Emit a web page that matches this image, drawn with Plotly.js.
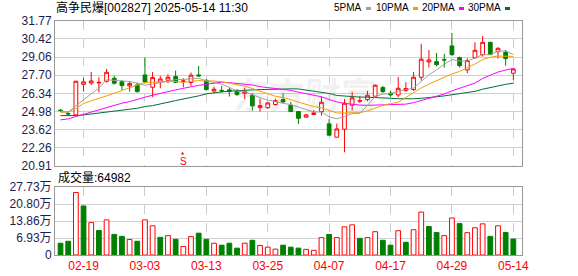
<!DOCTYPE html>
<html>
<head>
<meta charset="utf-8">
<script src="https://cdn.plot.ly/plotly-3.0.1.min.js"></script>
<style>html,body{margin:0;padding:0;background:#fff;}#chart{width:578px;height:276px;}</style>
</head>
<body>
<div id="chart"></div>
<script>
const dates = ['02-14','02-17','02-18','02-19','02-20','02-21','02-24','02-25','02-26','02-27','02-28',
  '03-03','03-04','03-05','03-06','03-07','03-10','03-11','03-12','03-13','03-14','03-17','03-18','03-19','03-20','03-21','03-24','03-25','03-26','03-27','03-28','03-31',
  '04-01','04-02','04-03','04-07','04-08','04-09','04-10','04-11','04-14','04-15','04-16','04-17','04-18','04-21','04-22','04-23','04-24','04-25','04-28','04-29','04-30',
  '05-06','05-07','05-08','05-09','05-12','05-13','05-14'];
const open  = [25.08,24.83,24.72,27.02,27.12,27.12,27.25,27.47,27.22,26.90,26.97,27.72,26.80,27.15,27.32,27.60,27.22,27.15,27.72,27.32,
  26.52,26.56,26.60,26.57,26.35,26.20,25.27,25.27,25.50,25.87,25.45,24.97,24.55,24.75,24.97,24.05,23.05,23.65,25.45,25.75,
  25.87,26.12,26.77,26.35,26.22,26.55,26.62,27.55,28.70,28.72,28.87,29.90,29.02,28.10,29.02,29.25,30.17,29.47,29.42,27.85];
const high  = [25.15,24.98,27.27,27.50,27.95,27.55,28.17,27.65,27.35,27.27,27.15,29.02,27.95,27.65,27.77,28.05,27.47,27.90,28.40,27.40,
  26.85,26.90,26.75,26.65,26.77,26.35,25.95,25.70,25.95,26.35,25.70,24.98,24.80,25.10,26.10,24.40,24.07,25.92,26.45,26.12,
  26.52,27.02,26.90,26.55,27.57,27.17,27.95,30.05,29.60,29.37,29.30,30.87,29.10,28.97,30.17,30.65,30.20,29.80,29.60,28.25];
const low   = [24.95,24.65,24.67,26.47,26.97,26.42,27.15,27.00,26.60,26.47,26.40,27.10,26.05,26.72,27.10,27.10,26.80,26.90,27.60,26.55,
  26.35,26.40,26.10,26.15,25.90,25.05,24.97,25.17,25.42,25.60,24.97,24.05,24.55,24.75,24.67,23.20,23.05,21.92,25.05,25.62,
  25.75,26.12,26.37,26.10,26.05,26.47,26.52,27.30,28.27,28.35,28.27,29.15,28.27,27.85,28.92,29.10,29.25,28.95,28.42,27.35];
const close = [25.05,24.80,27.25,27.20,27.27,27.16,27.92,27.10,26.92,27.07,26.47,27.20,27.52,27.42,27.55,27.17,27.27,27.70,27.65,26.62,
  26.65,26.53,26.50,26.25,26.47,25.40,25.42,25.62,25.80,25.70,24.97,24.47,24.72,24.87,25.67,23.20,23.67,25.60,26.00,25.79,
  26.20,26.95,26.47,26.22,26.72,26.70,27.55,28.90,28.85,28.50,28.85,29.25,28.42,28.80,29.57,30.17,29.25,29.72,28.95,28.17];
const volume = [48000,56000,255000,200000,132000,100000,143000,84000,76000,63000,56000,143000,119000,72000,79000,64000,35000,75000,89000,64000,
  48000,40000,48000,28000,48000,60000,39000,32000,24000,40000,32000,28000,23000,19000,71000,84000,71000,115000,123000,68000,
  71000,95000,60000,40000,99000,52000,103000,175000,116000,92000,79000,151000,128000,91000,111000,127000,76000,119000,92000,64982];
const ma5  = [25.00,24.92,25.42,25.86,26.31,26.74,27.36,27.33,27.27,27.23,27.10,26.95,27.04,27.14,27.23,27.37,27.39,27.42,27.47,27.28,
  27.18,27.03,26.79,26.51,26.48,26.23,26.01,25.83,25.74,25.59,25.50,25.31,25.13,24.95,24.94,24.58,24.43,24.60,24.83,24.85,
  25.45,26.10,26.28,26.32,26.51,26.61,26.73,27.22,27.74,28.10,28.53,28.87,28.77,28.76,28.98,29.24,29.24,29.50,29.53,29.25];
const ma10 = [24.90,24.95,25.20,25.58,25.78,25.95,26.15,26.35,26.55,26.77,26.92,27.16,27.18,27.21,27.23,27.23,27.17,27.23,27.30,27.26,
  27.27,27.21,27.11,26.99,26.88,26.70,26.52,26.31,26.12,26.03,25.86,25.66,25.48,25.34,25.26,25.04,24.87,24.87,24.89,24.89,
  25.02,25.26,25.44,25.57,25.68,26.03,26.42,26.75,27.03,27.30,27.57,27.80,27.99,28.25,28.54,28.88,29.05,29.14,29.15,29.11];
const ma20 = [24.35,24.42,24.60,24.77,24.97,25.15,25.30,25.45,25.60,25.72,25.90,26.05,26.20,26.35,26.47,26.60,26.72,26.85,26.94,27.02,
  27.10,27.18,27.14,27.10,27.06,26.97,26.84,26.77,26.72,26.65,26.56,26.43,26.30,26.17,26.08,25.88,25.70,25.59,25.50,25.46,
  25.44,25.46,25.45,25.45,25.47,25.53,25.64,25.80,25.96,26.10,26.29,26.53,26.72,26.91,27.11,27.46,27.73,27.94,28.09,28.21];
const ma30 = [24.67,24.65,24.67,24.72,24.80,24.85,24.92,25.00,25.07,25.15,25.22,25.35,25.42,25.52,25.67,25.80,25.90,26.00,26.15,26.30,
  26.40,26.45,26.50,26.55,26.58,26.60,26.62,26.64,26.67,26.69,26.68,26.67,26.59,26.51,26.46,26.33,26.18,26.13,26.10,26.06,
  26.05,26.04,26.01,25.97,25.94,25.92,25.93,25.97,26.01,26.08,26.15,26.24,26.30,26.39,26.49,26.65,26.78,26.92,27.02,27.10];
const xTicks = ['02-19','03-03','03-13','03-25','04-07','04-17','04-29','05-14'];
const priceTicks = [20.91,22.26,23.62,24.98,26.34,27.70,29.06,30.42,31.77];
const priceTickText = ['20.91','22.26','23.62','24.98','26.34','27.70','29.06','30.42','31.77'];
const volTicks = [0,69325,138650,207975,277300];
const volTickText = ['0','6.93万','13.86万','20.80万','27.73万'];
const maNames = ['5PMA','10PMA','20PMA','30PMA'];
const titleText = '高争民爆[002827] 2025-05-14 11:30';
const volLabel = '成交量:64982';
const signalDate = '03-10';

const RED = '#ff0000', GREEN = '#008000';
const maColors = ['#a0a0a0','#f0a000','#ff00ff','#006f35'];
const FONT = 'Liberation Sans, Arial, Noto Sans CJK SC, sans-serif';

const volUp = close.map((c, i) => i === 0 ? c >= open[i] : c >= close[i - 1]);

const traces = [];
[ma30, ma20, ma10, ma5].forEach((m, k) => {
  const idx = 3 - k;
  traces.push({type: 'scatter', mode: 'lines', x: dates, y: m, xaxis: 'x', yaxis: 'y',
    line: {color: maColors[idx], width: 1}, hoverinfo: 'skip', name: maNames[idx]});
});
traces.push({
  type: 'candlestick', x: dates, open: open, high: high, low: low, close: close,
  xaxis: 'x', yaxis: 'y', whiskerwidth: 0, hoverinfo: 'skip',
  increasing: {line: {color: RED, width: 1}, fillcolor: '#ffffff'},
  decreasing: {line: {color: GREEN, width: 1}, fillcolor: GREEN}
});
traces.push({
  type: 'bar', x: dates, y: volume, xaxis: 'x', yaxis: 'y2', width: 0.62, hoverinfo: 'skip',
  marker: {color: volUp.map(u => u ? '#ffffff' : GREEN),
           line: {color: volUp.map(u => u ? RED : GREEN), width: 1}}
});

// geometry helpers (pixel -> paper)
const L = 55, R = 56, T = 21, B = 21, W = 578, H = 276;
const pw = W - L - R, ph = H - T - B;
const px = x => (x - L) / pw;
const py = y => (H - B - y) / ph;

const annotations = [
  {text: titleText, xref: 'paper', yref: 'paper', x: px(54), y: py(8), xanchor: 'left', yanchor: 'middle',
   showarrow: false, font: {family: FONT, size: 12, color: '#000'}},
  {text: volLabel, xref: 'paper', yref: 'paper', x: px(56), y: py(177), xanchor: 'left', yanchor: 'middle',
   showarrow: false, font: {family: FONT, size: 12, color: '#000'}},
  {text: 'S', xref: 'x', yref: 'paper', x: signalDate, y: py(161.5), xanchor: 'center', yanchor: 'middle',
   showarrow: false, borderpad: 0, font: {family: FONT, size: 10, color: RED}},
  {text: '▲', xref: 'x', yref: 'paper', x: signalDate, y: py(152.5), xanchor: 'center', yanchor: 'middle',
   showarrow: false, borderpad: 0, font: {family: 'DejaVu Sans', size: 4, color: RED}},
  {text: '东方财富', xref: 'paper', yref: 'paper', x: px(305), y: py(93), xanchor: 'center', yanchor: 'middle',
   showarrow: false, font: {family: 'Noto Sans CJK SC', size: 36, color: 'rgba(150,150,150,0.12)', weight: 700}}
];
const markX = [366, 413, 459, 505];
const shapes = [];
maNames.forEach((n, i) => {
  annotations.push({text: n, xref: 'paper', yref: 'paper', x: px(markX[i] - 2), y: py(8), xanchor: 'right', yanchor: 'middle',
    showarrow: false, font: {family: FONT, size: 10, color: '#000'}});
  shapes.push({type: 'rect', xref: 'paper', yref: 'paper', x0: px(markX[i]), x1: px(markX[i] + 5), y0: py(10), y1: py(7),
    fillcolor: maColors[i], line: {width: 0}});
});

const tickFont = {family: FONT, size: 12, color: '#1c1c4e'};
const layout = {
  width: W, height: H, margin: {l: L, r: R, t: T, b: B, pad: 0},
  paper_bgcolor: '#ffffff', plot_bgcolor: '#ffffff', showlegend: false, dragmode: false,
  xaxis: {type: 'category', range: [-0.72, 60.13], anchor: 'y2', tickvals: xTicks, ticktext: xTicks,
    showgrid: true, gridcolor: '#cccccc', griddash: 'dash', gridwidth: 1, zeroline: false,
    showline: true, mirror: 'all', linecolor: '#999999', linewidth: 1, ticks: '',
    tickfont: {family: FONT, size: 12, color: RED}, rangeslider: {visible: false}, fixedrange: true},
  yaxis: {domain: [py(165.7), 1], range: [20.91, 31.77], tickvals: priceTicks, ticktext: priceTickText,
    showgrid: true, gridcolor: '#d0d0d0', gridwidth: 1, zeroline: false,
    showline: true, mirror: true, linecolor: '#999999', linewidth: 1, ticks: '', tickfont: tickFont, fixedrange: true},
  yaxis2: {domain: [0, py(187)], range: [0, 277300], tickvals: volTicks, ticktext: volTickText,
    showgrid: true, gridcolor: '#d0d0d0', gridwidth: 1, zeroline: false,
    showline: true, mirror: true, linecolor: '#999999', linewidth: 1, ticks: '', tickfont: tickFont, fixedrange: true},
  annotations: annotations, shapes: shapes
};
Plotly.newPlot('chart', traces, layout, {displayModeBar: false, staticPlot: true});
</script>
</body>
</html>
